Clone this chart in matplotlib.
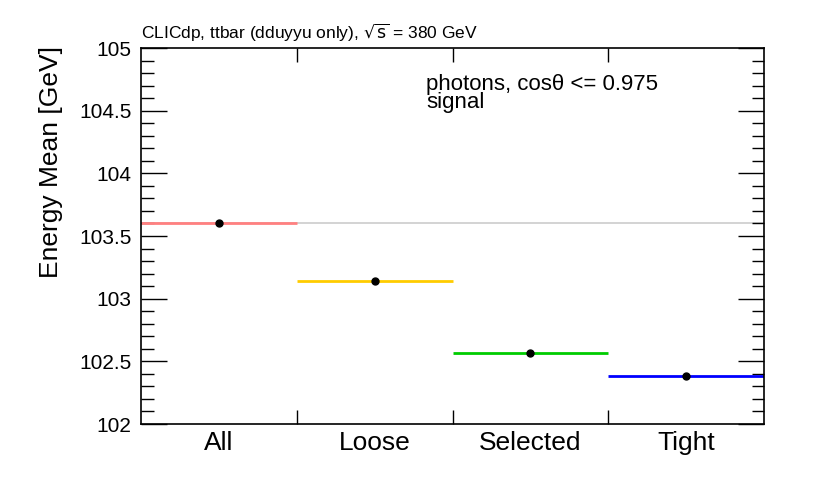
import matplotlib
matplotlib.use("Agg")
import matplotlib.pyplot as plt
from matplotlib.ticker import MultipleLocator, FixedLocator

plt.rcParams['font.family'] = ['Liberation Sans', 'DejaVu Sans']

categories = ["All", "Loose", "Selected", "Tight"]
values = [103.60, 103.14, 102.57, 102.38]
colors = ["#ff8080", "#ffcc00", "#00cc00", "#0000ff"]
reference_value = 103.60
ytick_values = [102, 102.5, 103, 103.5, 104, 104.5, 105]
ytick_labels = ["102", "102.5", "103", "103.5", "104", "104.5", "105"]

fig = plt.figure(figsize=(8.3, 4.88), dpi=100)
ax = fig.add_axes([141/830, 1-424/488, (764-141)/830, (424-48)/488])

n = len(categories)
ax.axhline(reference_value, color="#cccccc", lw=1.2, zorder=1)
for i, (v, c) in enumerate(zip(values, colors)):
    ax.hlines(v, i, i+1, color=c, lw=2, zorder=2)
    ax.plot(i+0.5, v, 'o', color='black', ms=5, zorder=3)

ax.set_xlim(0, n)
ax.set_ylim(102, 105)
ax.xaxis.set_major_locator(FixedLocator([i+0.5 for i in range(n)]))
ax.set_xticklabels(categories, fontsize=19)
ax.xaxis.set_minor_locator(FixedLocator(list(range(1, n))))
ax.tick_params(axis='x', which='major', length=0, pad=5)
ax.tick_params(axis='x', which='minor', length=10, width=1, top=True, direction='in')
ax.yaxis.set_minor_locator(MultipleLocator(0.1))
ax.set_yticks(ytick_values)
ax.set_yticklabels(ytick_labels, fontsize=15)
ax.tick_params(axis='y', which='major', length=19, width=1, direction='in', right=True, pad=7)
ax.tick_params(axis='y', which='minor', length=9, width=1, direction='in', right=True)
for s in ax.spines.values():
    s.set_linewidth(1.2)

ax.set_ylabel("Energy Mean [GeV]", fontsize=19, loc='top')
ax.yaxis.set_label_coords(-(141-63)/623, 1.005)

fig.text(141/830, 1-33/488, r"CLICdp, ttbar (dduyyu only), $\sqrt{\mathrm{s}}$ = 380 GeV",
         fontsize=12.5, ha='left', va='center')
fig.text(426/830, 1-74/488, "photons, cosθ <= 0.975\nsignal",
         fontsize=16, ha='left', va='top', linespacing=0.82)

fig.savefig("out.png", dpi=100)
